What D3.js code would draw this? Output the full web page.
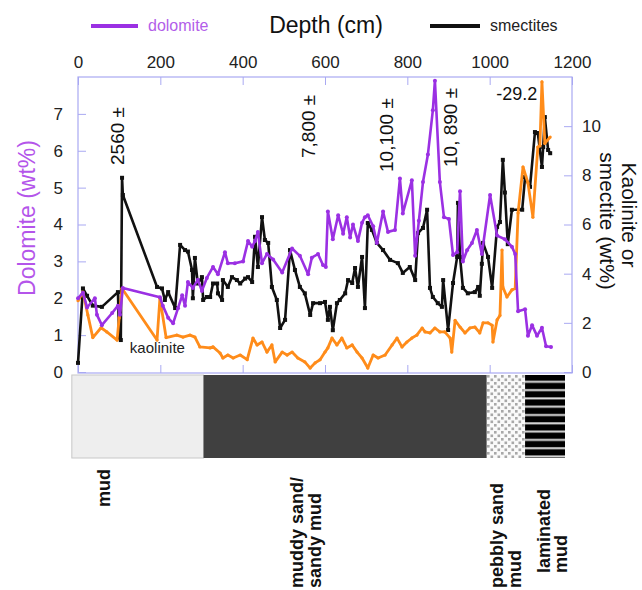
<!DOCTYPE html>
<html><head><meta charset="utf-8">
<script src="https://cdn.jsdelivr.net/npm/d3@7"></script>
<style>body{margin:0;background:#fff}svg{display:block}text{font-family:"Liberation Sans",Arial,Helvetica,sans-serif}</style>
</head><body><svg id="c" width="642" height="590"></svg>
<script>
// ---- data (depth in cm) ----
const depthTicks = [0,200,400,600,800,1000,1200];
const dolTicks = [0,1,2,3,4,5,6,7];
const rightTicks = [0,2,4,6,8,10];

const dolDepth = [0,12,22,41,46,58,83,97,102,109,199,206,219,231,243,253,260,267,279,291,301,313,328,340,357,364,381,401,413,423,430,437,447,459,474,496,520,539,559,568,583,595,602,607,619,632,644,653,661,668,680,690,697,704,717,726,741,753,770,782,789,811,819,828,838,850,862,867,879,889,901,911,921,928,935,945,957,969,981,1001,1018,1037,1054,1062,1069,1086,1093,1103,1115,1127,1137,1149];
const dolValue = [2.0,2.15,1.75,2.0,1.55,1.27,1.6,1.8,1.55,2.28,2.03,1.8,1.47,1.32,1.73,2.08,1.8,2.44,2.28,2.5,2.2,2.55,2.85,2.65,3.25,2.95,2.95,3.0,3.55,3.4,3.55,3.8,2.95,3.2,3.05,2.7,3.35,3.15,2.65,3.1,3.2,2.9,2.85,4.35,3.6,4.25,3.75,4.2,3.65,4.0,3.55,4.05,4.2,4.25,3.95,3.5,4.35,3.8,3.85,5.25,4.3,5.2,3.15,4.1,5.15,5.9,7.1,7.9,5.15,4.2,4.15,3.17,3.25,4.9,3.0,3.3,3.5,3.85,3.2,4.8,3.7,3.6,3.4,3.2,1.65,1.7,0.98,1.27,0.98,1.2,0.7,0.68];

const smeDepth = [0,12,22,36,58,97,100,104,107,109,192,204,211,219,236,248,260,267,277,279,284,291,301,304,313,321,328,338,340,350,352,364,374,386,394,406,413,423,430,437,447,454,462,471,483,491,503,515,527,539,551,564,571,588,600,607,612,619,629,636,649,656,666,673,680,690,697,704,714,726,741,758,777,789,806,819,826,838,848,855,862,874,884,887,899,911,921,923,928,935,947,964,972,976,981,984,996,1006,1018,1025,1032,1037,1044,1054,1079,1086,1098,1110,1117,1127,1130,1134,1142,1147];
const smeValue = [0.37,3.4,3.1,2.7,2.65,3.25,1.38,1.3,7.9,7.2,3.46,3.4,2.93,3.25,2.6,5.17,4.96,4.9,4.15,3.0,4.64,3.6,3.86,2.93,3.05,3.05,3.6,3.6,3.2,2.93,3.74,3.46,3.86,3.74,3.6,3.8,3.86,3.66,5.5,4.27,6.3,5.37,5.25,3.46,2.93,1.79,2.12,4.96,4.15,3.46,3.2,2.32,2.8,2.8,2.85,2.12,2.65,1.7,2.8,2.93,3.2,3.74,3.62,4.23,3.46,4.68,2.6,6.06,5.78,5.25,4.96,4.56,4.43,4.03,4.27,3.74,5.65,5.86,6.6,3.42,3.05,2.8,2.65,3.74,1.71,3.62,4.68,6.88,4.68,3.42,3.2,3.25,3.46,3.1,4.4,5.25,4.68,3.42,5.9,6.1,8.63,7.3,5.2,6.6,6.6,7.93,7.53,9.76,9.72,8.34,9.15,10.37,9.03,8.9];

const kaoDepth = [0,12,24,36,56,70,95,100,107,192,199,214,240,255,272,284,296,321,328,345,352,364,377,394,411,425,435,447,459,471,479,496,508,520,534,551,564,576,588,600,607,617,629,641,653,666,678,690,704,717,729,746,763,775,787,799,811,823,836,843,855,867,879,891,904,908,916,928,940,952,964,976,984,996,1006,1008,1018,1025,1030,1032,1042,1054,1062,1069,1081,1093,1105,1117,1122,1127,1134,1147];
const kaoValue = [2.9,3.25,2.32,1.4,1.8,1.63,1.3,2.2,3.4,1.3,3.0,1.4,1.5,1.42,1.5,1.42,1.02,0.98,1.02,0.77,0.57,0.69,0.57,0.69,0.5,1.38,1.1,1.22,0.81,1.1,0.41,0.81,0.69,0.81,0.57,0.41,0.16,0.37,0.5,0.81,0.98,1.38,1.1,1.38,0.98,1.1,0.81,0.57,0.16,0.69,0.57,0.69,1.1,1.38,1.02,1.22,1.38,1.5,1.79,1.63,1.59,1.79,1.63,1.63,1.38,0.81,2.1,1.83,1.59,1.79,1.83,1.59,2.0,2.0,1.9,1.22,2.12,2.3,4.96,3.46,3.05,3.34,3.4,6.47,8.34,7.69,6.3,9.15,9.2,11.8,9.3,9.56];

const ageDepth = [112,575,765,921];
const ageLabel = ["2560 ±","7,800 ±","10,100 ±","10, 890 ±"];
const ageStartY = [165,158,172,167];

const lithName = ["mud","muddy sand/sandy mud","pebbly sand mud","laminated mud"];
const lithTop = [-15,305,993,1086];
const lithBottom = [305,993,1086,1183];
const lithLines = [["mud"],["muddy sand/","sandy mud"],["pebbly sand","mud"],["laminated","mud"]];
const lithLabelDepth = [[78],[547,591],[1032,1076],[1146,1188]];
const lithLabelBottom = [507,588,588,573];

// ---- drawing ----
const svg = d3.select("#c");
const L=78,R=572,T=77,B=373;
const x = d3.scaleLinear().domain([0,1200]).range([L,R]);
const yL = d3.scaleLinear().domain([0,8]).range([372,T]);
const yR = d3.scaleLinear().domain([0,12]).range([372,T]);
const frameCol = "#a9a9f2";
const purple = "#9b30e3", orange = "#ff8c1a", black = "#111";

const defs = svg.append("defs");
const pp = defs.append("pattern").attr("id","pebble").attr("patternUnits","userSpaceOnUse").attr("width",7).attr("height",7);
pp.append("rect").attr("width",7).attr("height",7).attr("fill","#fafafa");
pp.append("rect").attr("x",0.5).attr("y",0.5).attr("width",2.6).attr("height",2.6).attr("fill","#a8a8a8");
pp.append("rect").attr("x",4).attr("y",4).attr("width",2.6).attr("height",2.6).attr("fill","#a8a8a8");
const lp = defs.append("pattern").attr("id","lam").attr("patternUnits","userSpaceOnUse").attr("width",10).attr("height",8.3).attr("y",375);
lp.append("rect").attr("width",10).attr("height",8.3).attr("fill","#000");
lp.append("rect").attr("y",5.8).attr("width",10).attr("height",2).attr("fill","#ddd");

// axes
function styleAxis(g){ g.select(".domain").remove(); g.selectAll(".tick line").attr("stroke",frameCol);
  g.selectAll(".tick text").attr("fill","#222").style("font-size","17px").style("font-family",'"Liberation Sans",Arial,sans-serif'); }
svg.append("g").attr("transform",`translate(0,${T})`).call(d3.axisTop(x).tickValues(depthTicks).tickFormat(d3.format("d")).tickSizeInner(-8).tickSizeOuter(0).tickPadding(9)).call(styleAxis);
svg.append("g").attr("transform",`translate(0,${B})`).call(d3.axisBottom(x).tickValues(depthTicks).tickSizeInner(-8).tickSizeOuter(0).tickFormat("")).call(styleAxis);
svg.append("g").attr("transform",`translate(${L},0)`).call(d3.axisLeft(yL).tickValues(dolTicks).tickSizeInner(-8).tickSizeOuter(0).tickPadding(15)).call(styleAxis);
svg.append("g").attr("transform",`translate(${R},0)`).call(d3.axisRight(yR).tickValues(rightTicks).tickSizeInner(-8).tickSizeOuter(0).tickPadding(10)).call(styleAxis);
svg.append("rect").attr("x",L).attr("y",T).attr("width",R-L).attr("height",B-T).attr("fill","none").attr("stroke",frameCol).attr("stroke-width",1.2);

// series
function series(dep, val, y, col, w){
  const pts = dep.map((d,i)=>[x(d), y(val[i])]);
  svg.append("path").attr("d", d3.line()(pts)).attr("fill","none").attr("stroke",col).attr("stroke-width",w).attr("stroke-linejoin","round");
  return pts;
}
const sp = series(smeDepth, smeValue, yR, black, 2.6);
svg.append("g").selectAll("rect").data(sp).join("rect").attr("x",d=>d[0]-2).attr("y",d=>d[1]-2).attr("width",4).attr("height",4).attr("fill",black);
const kp = series(kaoDepth, kaoValue, yR, orange, 2.8);
svg.append("g").selectAll("circle").data(kp).join("circle").attr("cx",d=>d[0]).attr("cy",d=>d[1]).attr("r",1.6).attr("fill",orange);
const dp = series(dolDepth, dolValue, yL, purple, 2.6);
svg.append("g").selectAll("circle").data(dp).join("circle").attr("cx",d=>d[0]).attr("cy",d=>d[1]).attr("r",2).attr("fill",purple);

// annotations
ageDepth.forEach((d,i)=>{
  svg.append("text").attr("transform",`translate(${x(d)},${ageStartY[i]}) rotate(-90)`).attr("text-anchor","start")
    .style("font-size","19px").attr("fill","#111").text(ageLabel[i]);
});
svg.append("text").attr("x",x(1016)).attr("y",100).style("font-size","18px").attr("fill","#111").text("-29.2");
svg.append("text").attr("x",x(126)).attr("y",353).style("font-size","15px").attr("fill","#222").text("kaolinite");

// titles & legend
svg.append("text").attr("x",326).attr("y",33).attr("text-anchor","middle").style("font-size","23px").attr("fill","#111").text("Depth (cm)");
svg.append("line").attr("x1",91).attr("x2",138).attr("y1",26).attr("y2",26).attr("stroke",purple).attr("stroke-width",4);
svg.append("text").attr("x",148).attr("y",31).style("font-size","16px").attr("fill","#b25ee9").text("dolomite");
svg.append("line").attr("x1",430).attr("x2",480).attr("y1",26).attr("y2",26).attr("stroke",black).attr("stroke-width",4);
svg.append("text").attr("x",490).attr("y",31).style("font-size","16px").attr("fill","#222").text("smectites");
svg.append("text").attr("transform","translate(35,218) rotate(-90)").attr("text-anchor","middle").style("font-size","23px").attr("fill","#b455ea").text("Dolomite (wt%)");
svg.append("text").attr("transform","translate(622,215) rotate(90)").attr("text-anchor","middle").style("font-size","21px").attr("fill","#111").text("Kaolinite or");
svg.append("text").attr("transform","translate(600,221) rotate(90)").attr("text-anchor","middle").style("font-size","21px").attr("fill","#111").text("smectite (wt%)");

// lithology column
const lithFill = ["#eeeeee","#404040","url(#pebble)","url(#lam)"];
svg.append("g").selectAll("rect").data(lithName).join("rect")
  .attr("x",(d,i)=>x(lithTop[i])).attr("width",(d,i)=>x(lithBottom[i])-x(lithTop[i]))
  .attr("y",375).attr("height",83).attr("fill",(d,i)=>lithFill[i])
  .attr("stroke",(d,i)=>i===0?"#c8c8c8":"none");
lithLines.forEach((lines,i)=>{
  lines.forEach((t,j)=>{
    svg.append("text").attr("transform",`translate(${x(lithLabelDepth[i][j])},${lithLabelBottom[i]}) rotate(-90)`)
      .attr("text-anchor","start").style("font-size","18px").style("font-weight","bold").attr("fill","#111").text(t);
  });
});
</script></body></html>
